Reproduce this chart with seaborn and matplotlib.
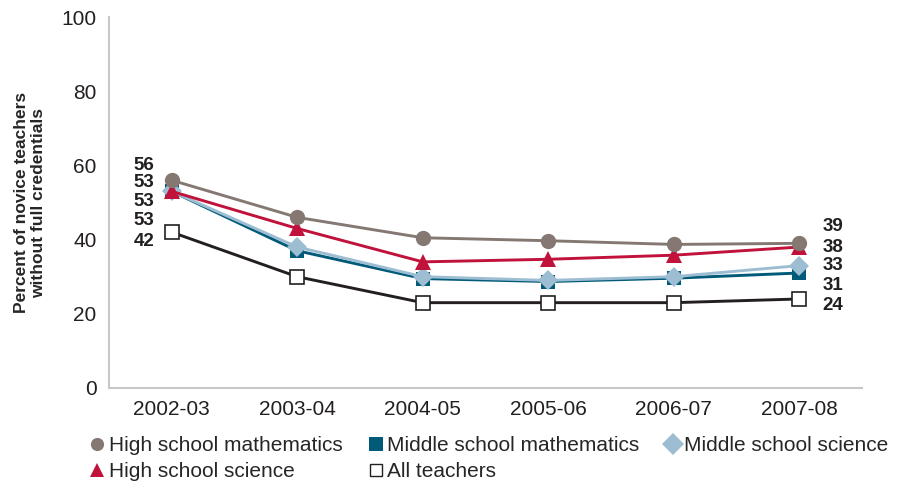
import matplotlib
matplotlib.use("Agg")
import matplotlib.pyplot as plt
from matplotlib.lines import Line2D
import seaborn as sns
import pandas as pd

# Dados
anos = ["2002-03", "2003-04", "2004-05", "2005-06", "2006-07", "2007-08"]
hs_matematica = [56, 46, 40.5, 39.7, 38.7, 39]
ms_matematica = [53, 37, 29.5, 28.7, 29.6, 31]
ms_ciencias = [53, 38, 30, 29, 30, 33]
hs_ciencias = [53, 43, 34, 34.7, 35.8, 38]
todos = [42, 30, 23, 23, 23, 24]

nomes = ["Middle school mathematics", "Middle school science", "High school science",
         "High school mathematics", "All teachers"]
series = [ms_matematica, ms_ciencias, hs_ciencias, hs_matematica, todos]
cores = ["#005a78", "#9dbdd3", "#c1123b", "#857873", "#231f20"]
marcadores = ["s", "D", "^", "o", "s"]
tam_marc = [10.5, 10, 11.5, 11, 10]
face = ["#005a78", "#9dbdd3", "#c1123b", "#857873", "white"]

# deslocamentos dos rótulos (pixels) nos extremos
desl_esq = [9, -10, -29, 15, -9]
desl_dir = [-13, 0, 0, 17, -7]

sns.set_style("white")
plt.rcParams["font.family"] = ["Liberation Sans", "DejaVu Sans"]

fig = plt.figure(figsize=(8.99, 4.87), dpi=100)
ax = fig.add_axes([0.1212, 0.2033, 0.8377, 0.7617])

for nome, vals, cor, mk, ms, fc, de, dd in zip(nomes, series, cores, marcadores, tam_marc, face, desl_esq, desl_dir):
    df = pd.DataFrame({"ano": anos, "valor": vals})
    sns.lineplot(data=df, x="ano", y="valor", ax=ax, color=cor, linewidth=2.1,
                 marker=mk, markersize=ms, markerfacecolor=fc,
                 markeredgecolor=(cor if nome != "All teachers" else "#231f20"),
                 markeredgewidth=(1.2 if nome == "All teachers" else 0), sort=False)
    ax.annotate(f"{vals[0]:.0f}", (anos[0], vals[0]), xytext=(-17, de), textcoords="offset pixels",
                ha="right", va="center", fontsize=13.5, fontweight="bold", color="#231f20")
    ax.annotate(f"{vals[-1]:.0f}", (anos[-1], vals[-1]), xytext=(23, dd), textcoords="offset pixels",
                ha="left", va="center", fontsize=13.5, fontweight="bold", color="#231f20")

ax.set_xlim(-0.5, 5.5)
ax.set_ylim(0, 100)
ax.set_yticks(range(0, 101, 20))
ax.set_xlabel("")
ax.set_ylabel("Percent of novice teachers\nwithout full credentials", fontsize=12.5,
              fontweight="bold", labelpad=11, linespacing=1.2)
ax.tick_params(axis="both", length=0, labelsize=15, colors="#231f20")
ax.tick_params(axis="y", pad=9)
ax.tick_params(axis="x", pad=9)
for lado in ["top", "right"]:
    ax.spines[lado].set_visible(False)
for lado in ["left", "bottom"]:
    ax.spines[lado].set_color("#c8c8c8")
    ax.spines[lado].set_linewidth(1.5)

# legenda
def alca(i, ms):
    return Line2D([], [], linestyle="", marker=marcadores[i], markersize=ms,
                  markerfacecolor=face[i], markeredgecolor=cores[i] if i != 4 else "#231f20",
                  markeredgewidth=1 if i == 4 else 0)

handles = [alca(3, 9.5), alca(2, 10), alca(0, 9.5), alca(4, 9), alca(1, 11)]
labels = [nomes[3], nomes[2], nomes[0], nomes[4], nomes[1]]
fig.legend(handles, labels, ncol=3, loc="upper left", bbox_to_anchor=(0.101, 0.104),
           frameon=False, fontsize=15, handlelength=0.6, handletextpad=0.25,
           columnspacing=1.3, labelspacing=0.32, borderaxespad=0, borderpad=0)

fig.savefig("out.png", dpi=100)
